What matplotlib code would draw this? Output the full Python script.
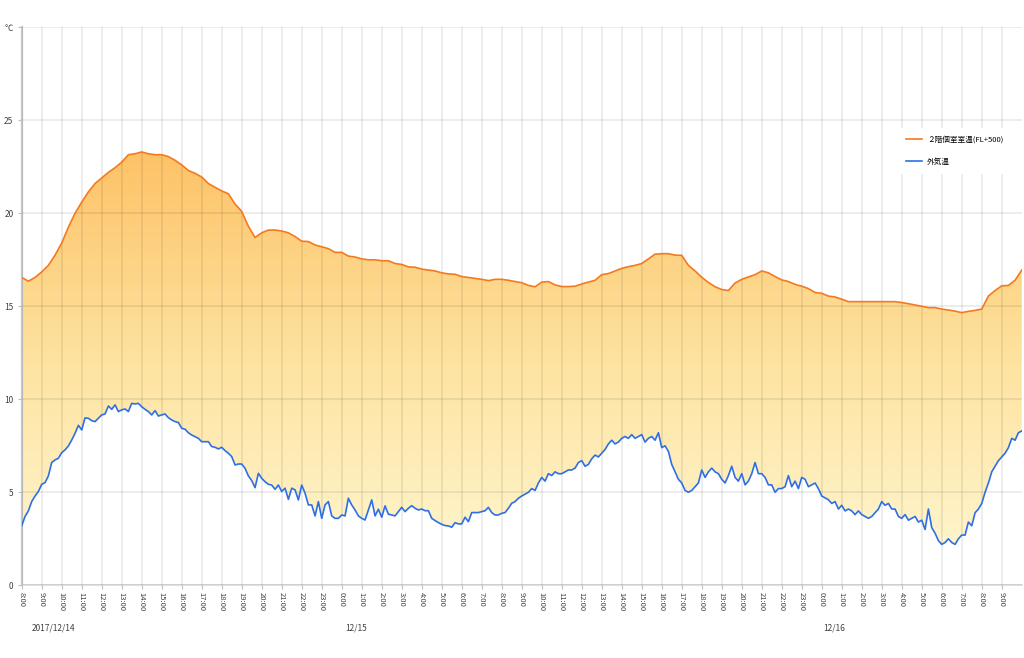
import numpy as np
import matplotlib
matplotlib.use("Agg")
import matplotlib.pyplot as plt
from matplotlib.colors import LinearSegmentedColormap
from matplotlib.patches import Polygon

# hours since 2017/12/14 8:00
room_step = 1 / 3   # 20 min samples
out_step = 1 / 6    # 10 min samples

room_label = "２階個室室温(FL+500)"
out_label = "外気温"

room_temp = [
    16.55, 16.35, 16.55, 16.85, 17.2, 17.75, 18.4, 19.25, 20.0, 20.6,
    21.15, 21.6, 21.9, 22.2, 22.45, 22.75, 23.15, 23.2, 23.3, 23.2,
    23.15, 23.15, 23.05, 22.85, 22.6, 22.3, 22.15, 21.95, 21.6, 21.4,
    21.2, 21.05, 20.5, 20.1, 19.3, 18.7, 18.95, 19.1, 19.1, 19.05,
    18.95, 18.75, 18.5, 18.48, 18.3, 18.2, 18.1, 17.9, 17.9, 17.7,
    17.65, 17.55, 17.5, 17.5, 17.45, 17.45, 17.3, 17.25, 17.12, 17.1,
    17.0, 16.95, 16.9, 16.8, 16.74, 16.72, 16.6, 16.55, 16.5, 16.45,
    16.38, 16.45, 16.45, 16.4, 16.33, 16.27, 16.12, 16.05, 16.3, 16.33,
    16.15, 16.06, 16.06, 16.08, 16.2, 16.3, 16.4, 16.7, 16.76, 16.9,
    17.04, 17.13, 17.2, 17.3, 17.55, 17.8, 17.83, 17.83, 17.75, 17.74,
    17.2, 16.9, 16.56, 16.28, 16.05, 15.9, 15.85, 16.25, 16.45, 16.58,
    16.7, 16.9, 16.8, 16.6, 16.42, 16.33, 16.18, 16.08, 15.95, 15.74,
    15.7, 15.55, 15.5, 15.38, 15.25, 15.25, 15.25, 15.25, 15.25, 15.25,
    15.25, 15.25, 15.2, 15.14, 15.07, 15.0, 14.93, 14.93, 14.85, 14.8,
    14.74, 14.66, 14.73, 14.78, 14.85, 15.55, 15.85, 16.1, 16.12, 16.4, 16.95,
]

out_temp = [
    3.2, 3.7, 4.0, 4.5, 4.8, 5.04, 5.43, 5.52, 5.88, 6.6,
    6.74, 6.83, 7.13, 7.28, 7.49, 7.81, 8.17, 8.6, 8.35, 9.0,
    8.98, 8.85, 8.8, 8.98, 9.16, 9.21, 9.64, 9.46, 9.7, 9.34,
    9.43, 9.48, 9.34, 9.78, 9.75, 9.78, 9.6, 9.46, 9.34, 9.16,
    9.39, 9.1, 9.16, 9.21, 9.01, 8.89, 8.8, 8.75, 8.44, 8.39,
    8.2, 8.08, 7.99, 7.9, 7.72, 7.72, 7.72, 7.46, 7.42, 7.33,
    7.42, 7.24, 7.1, 6.92, 6.47, 6.52, 6.52, 6.29, 5.88, 5.63,
    5.25, 6.02, 5.75, 5.57, 5.43, 5.39, 5.16, 5.39, 5.04, 5.22,
    4.62, 5.22, 5.13, 4.59, 5.39, 4.95, 4.32, 4.32, 3.73, 4.5,
    3.6, 4.32, 4.5, 3.73, 3.6, 3.6, 3.78, 3.73, 4.68, 4.32,
    4.05, 3.73, 3.6, 3.51, 4.05, 4.59, 3.73, 4.09, 3.66, 4.27,
    3.82, 3.78, 3.73, 3.96, 4.19, 3.96, 4.14, 4.28, 4.14, 4.05,
    4.1, 4.01, 4.01, 3.6, 3.48, 3.37, 3.28, 3.21, 3.19, 3.12,
    3.37, 3.3, 3.3, 3.66, 3.42, 3.91, 3.91, 3.91, 3.96, 4.01,
    4.19, 3.91, 3.78, 3.78, 3.87, 3.91, 4.14, 4.41, 4.5, 4.68,
    4.8, 4.9, 5.0, 5.2, 5.1, 5.5, 5.8, 5.6, 6.0, 5.9,
    6.1, 6.0, 6.0, 6.1, 6.2, 6.2, 6.3, 6.6, 6.7, 6.4,
    6.5, 6.8, 7.0, 6.9, 7.1, 7.3, 7.6, 7.8, 7.6, 7.7,
    7.9, 8.0, 7.9, 8.1, 7.9, 8.0, 8.1, 7.7, 7.9, 8.0,
    7.8, 8.2, 7.4, 7.5, 7.2, 6.5, 6.1, 5.7, 5.5, 5.1,
    5.0, 5.1, 5.3, 5.5, 6.2, 5.8, 6.1, 6.3, 6.1, 6.0,
    5.7, 5.5, 5.9, 6.4, 5.8, 5.6, 6.0, 5.4, 5.6, 6.0,
    6.6, 6.0, 6.0, 5.8, 5.4, 5.4, 5.0, 5.2, 5.2, 5.3,
    5.9, 5.3, 5.6, 5.2, 5.8, 5.7, 5.3, 5.4, 5.5, 5.2,
    4.8, 4.7, 4.6, 4.4, 4.5, 4.1, 4.3, 4.0, 4.1, 4.0,
    3.8, 4.0, 3.8, 3.7, 3.6, 3.7, 3.9, 4.1, 4.5, 4.3,
    4.4, 4.1, 4.1, 3.7, 3.6, 3.8, 3.5, 3.6, 3.7, 3.4,
    3.5, 3.0, 4.1, 3.1, 2.8, 2.4, 2.2, 2.3, 2.5, 2.3,
    2.2, 2.5, 2.7, 2.7, 3.4, 3.2, 3.9, 4.1, 4.4, 5.0,
    5.5, 6.1, 6.4, 6.7, 6.9, 7.1, 7.4, 7.9, 7.8, 8.2, 8.3,
]

start_hour = 8
n_hours = 50
hour_labels = [f"{(start_hour + h) % 24}:00" for h in range(n_hours)]
date_labels = ["2017/12/14", "12/15", "12/16"]
date_pos = [0.5, 16.2, 40.05]
y_ticks = [0, 5, 10, 15, 20, 25, 30]
y_labels = ["0", "5", "10", "15", "20", "25", "℃"]

plt.rcParams["font.family"] = ["Noto Sans CJK JP", "DejaVu Sans"]

t_room = np.arange(len(room_temp)) * room_step
t_out = np.arange(len(out_temp)) * out_step

fig = plt.figure(figsize=(10.24, 6.58), dpi=100)
ax = fig.add_axes([0.0212, 0.1105, 0.9766, 0.8480])

# gradient between the two lines
verts = np.column_stack([np.concatenate([t_room, t_out[::-1]]),
                         np.concatenate([room_temp, out_temp[::-1]])])
patch = Polygon(verts, closed=True, facecolor="none", edgecolor="none")
ax.add_patch(patch)
cmap = LinearSegmentedColormap.from_list("fill", ["#FFF8D4", "#FEE3A0", "#FDC063"])
grad = np.linspace(0, 1, 256).reshape(-1, 1)
im = ax.imshow(grad, extent=[0, n_hours, 0, 24], origin="lower", aspect="auto",
               cmap=cmap, zorder=1)
im.set_clip_path(patch)

ax.plot(t_room, room_temp, color="#F47A1F", lw=1.2, zorder=4, label=room_label)
ax.plot(t_out, out_temp, color="#2E6FE6", lw=1.2, zorder=4, label=out_label)

ax.set_xlim(0, n_hours)
ax.set_ylim(0, 30)
ax.set_xticks(range(n_hours))
ax.set_xticklabels(hour_labels, rotation=-90)
ax.set_yticks(y_ticks)
ax.set_yticklabels(y_labels)

ax.set_axisbelow(False)
ax.grid(True, color="black", alpha=0.09, lw=1.1)

for s in ["top", "right"]:
    ax.spines[s].set_visible(False)
ax.spines["left"].set_color("#C8C8C8")
ax.spines["left"].set_linewidth(1.6)
ax.spines["bottom"].set_color("#D9D9D9")
ax.spines["bottom"].set_linewidth(1.2)

ax.tick_params(axis="x", length=3, width=0.8, color="#BFBFBF", labelsize=5.5,
               labelcolor="#404040", pad=1.5)
ax.tick_params(axis="y", length=3, width=0.8, color="#BFBFBF", labelsize=6,
               labelcolor="#404040", pad=3)

for lab, pos in zip(date_labels, date_pos):
    ax.text(pos, -0.0765, lab, transform=ax.get_xaxis_transform(),
            fontsize=6, ha="left", va="center", color="#404040")

ax.legend(loc="upper left", bbox_to_anchor=(898 / 1024, 1 - 128 / 658),
          bbox_transform=fig.transFigure, frameon=True, fancybox=False,
          edgecolor="none", facecolor="white", framealpha=1, fontsize=5.5,
          handlelength=2.1, handletextpad=0.7, labelspacing=1.9,
          borderpad=1.0, borderaxespad=0)

fig.savefig("out.png", dpi=100)
